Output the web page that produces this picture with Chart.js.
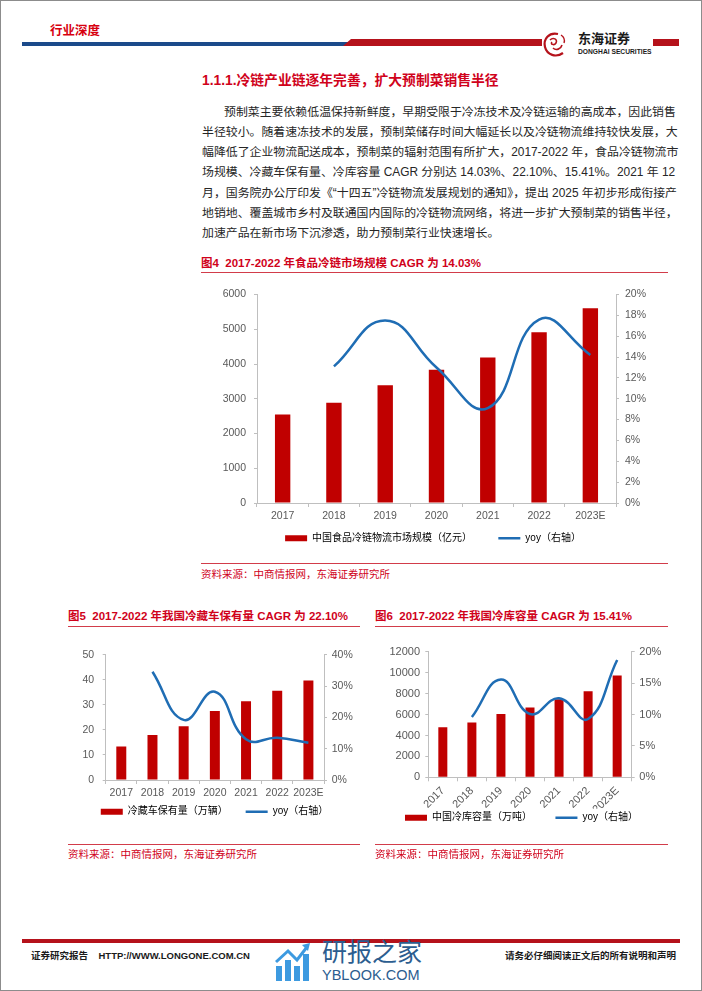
<!DOCTYPE html>
<html lang="zh-CN">
<head>
<meta charset="utf-8">
<title>行业深度 - 冷链产业链</title>
<script src="https://cdn.jsdelivr.net/npm/chart.js@4.4.1/dist/chart.umd.min.js"></script>
<style>
    html, body { margin: 0; padding: 0; background: #fff; }
    body { font-family: "Liberation Sans", "Noto Sans CJK SC", sans-serif; color: #262626; }
    #page { position: relative; width: 702px; height: 991px; overflow: hidden; background: #fff; }
    #frame { position: absolute; left: 0; top: 0; width: 702px; height: 991px; box-sizing: border-box; border: 1px solid #8c8c8c; pointer-events: none; }
    .abs { position: absolute; white-space: nowrap; }
    .red { color: #d0021b; }
    .rule { position: absolute; height: 1px; background: #d23c4a; }
    .tag { left: 50px; top: 24px; font-size: 12.5px; line-height: 15px; font-weight: bold; color: #d7000f; }
    .heading { left: 202px; top: 72px; font-size: 13.8px; line-height: 17px; font-weight: bold; }
    .body-line { position: absolute; left: 202px; width: 465px; font-size: 11.9px; line-height: 20px; height: 20px;
                 white-space: nowrap; text-align: justify; text-align-last: justify; }
    .body-line.last { text-align-last: left; }
    .fig-title { font-size: 11.5px; line-height: 14px; font-weight: bold; }
    .source { font-size: 10.5px; line-height: 12px; }
    .foot { font-size: 9.5px; line-height: 12px; font-weight: bold; color: #1a1a1a; }
    canvas { position: absolute; }
</style>
</head>
<body>
<div id="page">
    <!-- header -->
    <div class="abs tag">行业深度</div>
    <div class="abs" style="left:22px;top:41.5px;width:326px;height:4.5px;background:#1b4a8a;"></div>
    <div class="abs" style="left:343px;top:39px;width:199px;height:7px;background:#b5121b;clip-path:polygon(8px 0,100% 0,100% 100%,0 100%);"></div>
    <svg class="abs" style="left:541px;top:31px;" width="28" height="28" viewBox="0 0 28 28">
        <path d="M17 3 C8 1 2 8 4 16 C6 24 15 27 22 22" fill="none" stroke="#b5121b" stroke-width="2.2"/>
        <path d="M9 9 C12 6 17 8 15 12 C13 15 9 13 11 11 M12 17 C15 20 20 18 21 14" fill="none" stroke="#b5121b" stroke-width="1.6"/>
        <path d="M20 4 C23 6 24 9 23 12" fill="none" stroke="#b5121b" stroke-width="1.4"/>
    </svg>
    <div class="abs" style="left:578px;top:31.5px;font-size:13px;line-height:13px;font-weight:bold;color:#1a1a1a;">东海证券</div>
    <div class="abs" style="left:578px;top:48px;font-size:6.7px;line-height:7px;font-weight:bold;color:#1a1a1a;">DONGHAI SECURITIES</div>
    <div class="abs" style="left:653px;top:39px;width:26px;height:7px;background:#b5121b;"></div>

    <!-- section text -->
    <div class="abs heading red">1.1.1.冷链产业链逐年完善，扩大预制菜销售半径</div>
    <div class="body-line" style="top:101.7px;padding-left:22px;width:443px;">预制菜主要依赖低温保持新鲜度，早期受限于冷冻技术及冷链运输的高成本，因此销售</div>
    <div class="body-line" style="top:121.9px;">半径较小。随着速冻技术的发展，预制菜储存时间大幅延长以及冷链物流维持较快发展，大</div>
    <div class="body-line" style="top:142.1px;">幅降低了企业物流配送成本，预制菜的辐射范围有所扩大，2017-2022 年，食品冷链物流市</div>
    <div class="body-line" style="top:162.3px;">场规模、冷藏车保有量、冷库容量 CAGR 分别达 14.03%、22.10%、15.41%。2021 年 12</div>
    <div class="body-line" style="top:182.5px;">月，国务院办公厅印发《“十四五”冷链物流发展规划的通知》，提出 2025 年初步形成衔接产</div>
    <div class="body-line" style="top:202.7px;">地销地、覆盖城市乡村及联通国内国际的冷链物流网络，将进一步扩大预制菜的销售半径，</div>
    <div class="body-line last" style="top:222.9px;">加速产品在新市场下沉渗透，助力预制菜行业快速增长。</div>

    <!-- figure 4 -->
    <div class="abs fig-title red" style="left:201px;top:255.7px;">图4&nbsp; 2017-2022 年食品冷链市场规模 CAGR 为 14.03%</div>
    <div class="rule" style="left:201px;top:271.5px;width:467px;"></div>
    <canvas id="chart-market" width="470" height="274" style="left:198px;top:280px;"></canvas>
    <div class="rule" style="left:201px;top:563px;width:467px;"></div>
    <div class="abs source red" style="left:201px;top:568px;">资料来源：中商情报网，东海证券研究所</div>

    <!-- figure 5 -->
    <div class="abs fig-title red" style="left:68px;top:608.7px;">图5&nbsp; 2017-2022 年我国冷藏车保有量 CAGR 为 22.10%</div>
    <div class="rule" style="left:68px;top:626px;width:292px;"></div>
    <canvas id="chart-trucks" width="329" height="187" style="left:50px;top:640px;"></canvas>
    <div class="rule" style="left:68px;top:844px;width:292px;"></div>
    <div class="abs source red" style="left:68px;top:848px;">资料来源：中商情报网，东海证券研究所</div>

    <!-- figure 6 -->
    <div class="abs fig-title red" style="left:375px;top:608.7px;">图6&nbsp; 2017-2022 年我国冷库容量 CAGR 为 15.41%</div>
    <div class="rule" style="left:375px;top:626px;width:293px;"></div>
    <canvas id="chart-storage" width="293" height="193" style="left:375px;top:640px;"></canvas>
    <div class="rule" style="left:375px;top:844px;width:293px;"></div>
    <div class="abs source red" style="left:375px;top:848px;">资料来源：中商情报网，东海证券研究所</div>

    <!-- footer -->
    <div class="abs" style="left:22px;top:939px;width:658px;height:3.5px;background:#b5121b;"></div>
    <div class="abs foot" style="left:31px;top:950px;">证券研究报告</div>
    <div class="abs foot" style="left:98.5px;top:950px;">HTTP://WWW.LONGONE.COM.CN</div>
    <div class="abs foot" style="left:505px;top:950px;">请务必仔细阅读正文后的所有说明和声明</div>
    <svg class="abs" style="left:275px;top:942px;" width="36" height="40" viewBox="0 0 36 40">
        <rect x="1" y="24" width="6" height="15" fill="#3d9ae0"/>
        <rect x="10" y="18" width="6" height="21" fill="#3d9ae0"/>
        <rect x="19" y="24" width="6" height="15" fill="#3d9ae0"/>
        <rect x="28" y="12" width="6" height="27" fill="#3d9ae0"/>
        <path d="M1 20 L13 9 L22 18 L32 5" fill="none" stroke="#3d9ae0" stroke-width="3"/>
        <path d="M27 3 L35 1 L33 9 Z" fill="#3d9ae0"/>
    </svg>
    <div class="abs" style="left:322px;top:939px;font-size:25px;line-height:26px;color:#2c5d8f;">研报之家</div>
    <div class="abs" style="left:322px;top:967px;font-size:14.5px;line-height:16px;color:#2c5d8f;">YBLOOK.COM</div>

    <div id="frame"></div>
</div>

<script>
/**
 * Category labels shared by all three charts.
 */
const YEARS = ['2017', '2018', '2019', '2020', '2021', '2022', '2023E'];

/**
 * 中国食品冷链物流市场规模（亿元） and its yoy in %.
 */
const MARKET_SIZE = [2550, 2886, 3391, 3832, 4184, 4916, 5602];
const MARKET_YOY = [null, 13.1, 17.5, 13.0, 9.1, 17.6, 14.2];
const MARKET_TICKS = { max: 6000, step: 1000, yoyMax: 20, yoyStep: 2 };

/**
 * 冷藏车保有量（万辆） and its yoy in %.
 */
const TRUCKS = [13.4, 18.0, 21.5, 27.6, 31.4, 35.6, 39.7];
const TRUCKS_YOY = [null, 34.6, 19.2, 28.2, 13.0, 13.5, 11.9];
const TRUCKS_TICKS = { max: 50, step: 10, yoyMax: 40, yoyStep: 10 };

/**
 * 中国冷库容量（万吨） and its yoy in %.
 */
const STORAGE = [4780, 5240, 6060, 6690, 7480, 8240, 9750];
const STORAGE_YOY = [null, 9.6, 15.6, 10.1, 12.6, 9.3, 18.7];
const STORAGE_TICKS = { max: 12000, step: 2000, yoyMax: 20, yoyStep: 5 };

const BAR_RED = '#c00000';
const LINE_BLUE = '#1f6db4';
const AXIS_GREY = '#bfbfbf';
const LABEL_GREY = '#595959';

Chart.defaults.font.family = '"Liberation Sans", "Noto Sans CJK SC", sans-serif';
Chart.defaults.color = LABEL_GREY;

/**
 * Build a bar + yoy line chart with a left and a right axis.
 *
 * @param canvasId The canvas element id.
 * @param series The bar values, yoy values, legend label and tick setup.
 * @param layout Sizes of the axes, fonts and paddings.
 */
function createComboChart(canvasId, series, layout) {
    const tickFont = { size: layout.tickFont };
    // the legend padding also moves the row down, so the gap between items is made with spaces
    const spacer = '\u00a0'.repeat(layout.legendSpaces);
    return new Chart(document.getElementById(canvasId), {
        type: 'bar',
        data: {
            labels: YEARS,
            datasets: [
                {
                    type: 'bar',
                    label: series.barLabel,
                    data: series.bars,
                    yAxisID: 'y',
                    backgroundColor: BAR_RED,
                    borderColor: BAR_RED,
                    borderWidth: 0,
                    categoryPercentage: 1,
                    barPercentage: layout.barPct,
                    order: 1
                },
                {
                    type: 'line',
                    label: 'yoy（右轴）',
                    data: series.yoy,
                    yAxisID: 'y1',
                    borderColor: LINE_BLUE,
                    backgroundColor: LINE_BLUE,
                    borderWidth: 2.5,
                    pointRadius: 0,
                    tension: 0.45,
                    order: 0
                }
            ]
        },
        options: {
            responsive: false,
            animation: false,
            devicePixelRatio: 1,
            layout: { padding: { top: layout.padTop, bottom: layout.padBottom, left: 0, right: 0 } },
            plugins: {
                tooltip: { enabled: false },
                legend: {
                    position: 'bottom',
                    labels: {
                        usePointStyle: true,
                        pointStyleWidth: 22,
                        boxHeight: 6,
                        padding: 4,
                        color: LABEL_GREY,
                        font: { size: 10 },
                        generateLabels: chart => chart.data.datasets.map((ds, i) => ({
                            text: ds.type === 'line' ? ds.label : ds.label + spacer,
                            fillStyle: ds.backgroundColor,
                            strokeStyle: ds.borderColor,
                            lineWidth: ds.type === 'line' ? 2.5 : 0,
                            pointStyle: ds.type === 'line' ? 'line' : 'rect',
                            datasetIndex: i,
                            hidden: false
                        }))
                    }
                }
            },
            scales: {
                x: {
                    offset: true,
                    grid: { offset: true, drawOnChartArea: false, tickLength: 4, color: AXIS_GREY },
                    border: { color: AXIS_GREY },
                    ticks: {
                        font: tickFont,
                        padding: 3,
                        autoSkip: false,
                        minRotation: layout.rotation,
                        maxRotation: layout.rotation
                    },
                    afterFit: scale => { scale.height = layout.xHeight; }
                },
                y: {
                    position: 'left',
                    min: 0,
                    max: series.ticks.max,
                    grid: { drawOnChartArea: false, tickLength: 3, color: AXIS_GREY },
                    border: { color: AXIS_GREY },
                    ticks: { stepSize: series.ticks.step, font: tickFont, padding: layout.leftPad, callback: v => String(v) },
                    afterFit: scale => { scale.width = layout.leftWidth; }
                },
                y1: {
                    position: 'right',
                    min: 0,
                    max: series.ticks.yoyMax,
                    grid: { drawOnChartArea: false, tickLength: 3, color: AXIS_GREY },
                    border: { color: AXIS_GREY },
                    ticks: { stepSize: series.ticks.yoyStep, font: tickFont, padding: layout.rightPad, callback: v => v + '%' },
                    afterFit: scale => { scale.width = layout.rightWidth; }
                }
            }
        }
    });
}

createComboChart('chart-market',
    { bars: MARKET_SIZE, yoy: MARKET_YOY, barLabel: '中国食品冷链物流市场规模（亿元）', ticks: MARKET_TICKS },
    { tickFont: 10.5, barPct: 0.3, rotation: 0, padTop: 14.5, padBottom: 0.7, xHeight: 26.3,
      legendSpaces: 8, leftWidth: 59, rightWidth: 52, leftPad: 8, rightPad: 6 });

createComboChart('chart-trucks',
    { bars: TRUCKS, yoy: TRUCKS_YOY, barLabel: '冷藏车保有量（万辆）', ticks: TRUCKS_TICKS },
    { tickFont: 10.5, barPct: 0.32, rotation: 0, padTop: 11.7, padBottom: 0.3, xHeight: 22.7,
      legendSpaces: 5, leftWidth: 55.7, rightWidth: 55, leftPad: 8.5, rightPad: 4.7 });

createComboChart('chart-storage',
    { bars: STORAGE, yoy: STORAGE_YOY, barLabel: '中国冷库容量（万吨）', ticks: STORAGE_TICKS },
    { tickFont: 11, barPct: 0.31, rotation: 45, padTop: 9.3, padBottom: 0.3, xHeight: 31.4,
      legendSpaces: 7, leftWidth: 53.3, rightWidth: 36.3, leftPad: 5.3, rightPad: 4.6 });
</script>
</body>
</html>
